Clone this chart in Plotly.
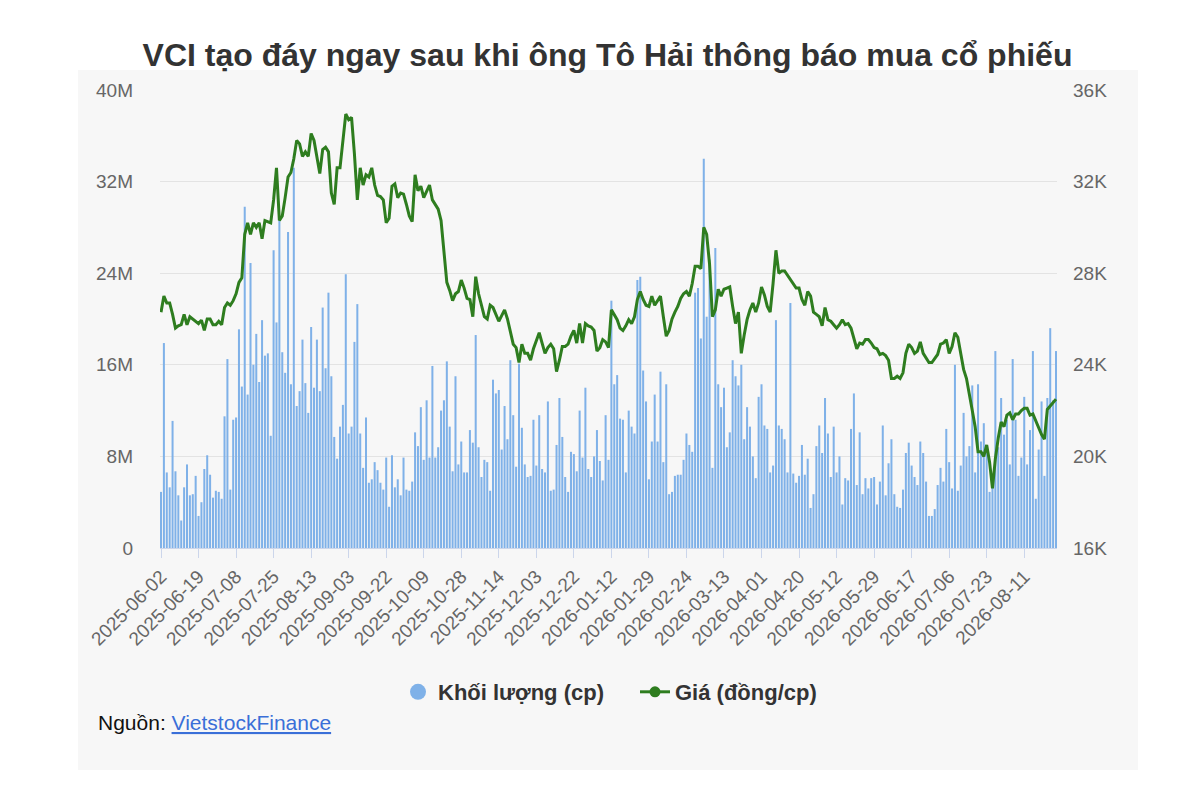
import pandas as pd
import plotly.graph_objects as go

# ---------------- data ----------------
TITLE = "VCI tạo đáy ngay sau khi ông Tô Hải thông báo mua cổ phiếu"
VOL_NAME = "Khối lượng (cp)"
PRICE_NAME = "Giá (đồng/cp)"

# trading calendar (weekdays minus market holidays)
holidays = ["2025-09-01", "2025-09-02", "2026-01-01", "2026-01-02",
            "2026-02-16", "2026-02-17", "2026-02-18", "2026-02-19", "2026-02-20",
            "2026-04-27", "2026-04-30", "2026-05-01"]
all_days = pd.bdate_range("2025-06-02", "2026-08-26")
dates = [d.strftime("%Y-%m-%d") for d in all_days if d.strftime("%Y-%m-%d") not in holidays]

# volume, millions of shares
volume_m = [
    4.9, 17.9, 6.6, 5.3, 11.1, 6.7, 4.6, 2.4, 5.3, 7.3,
    4.6, 4.7, 6.3, 2.8, 4.0, 6.9, 8.1, 6.4, 4.4, 5.0,
    4.9, 4.3, 11.5, 16.5, 5.1, 11.2, 11.4, 19.1, 14.1, 29.8,
    13.4, 24.9, 16.0, 18.7, 14.5, 19.9, 16.8, 17.0, 9.8, 26.0,
    19.7, 28.6, 17.1, 15.3, 27.6, 14.3, 33.2, 12.4, 13.7, 18.2,
    14.4, 11.8, 19.3, 14.0, 18.2, 13.7, 21.0, 15.7, 22.3, 15.0,
    9.7, 7.8, 10.6, 12.5, 23.9, 10.0, 10.6, 18.0, 21.3, 10.0,
    7.0, 11.4, 5.7, 6.0, 7.5, 6.8, 5.7, 5.1, 7.9, 3.6,
    8.1, 5.3, 6.0, 4.6, 7.9, 5.1, 5.0, 5.8, 10.1, 8.9,
    12.3, 7.7, 12.9, 7.9, 15.9, 7.9, 8.8, 12.0, 12.9, 16.3,
    10.6, 6.7, 15.0, 7.3, 9.3, 6.6, 6.6, 10.3, 9.2, 18.6,
    8.8, 6.2, 7.7, 7.5, 5.0, 14.7, 13.5, 13.8, 8.6, 12.4,
    9.5, 16.4, 11.6, 7.1, 16.1, 10.5, 7.3, 6.2, 6.3, 11.2,
    7.2, 11.6, 6.9, 6.6, 12.8, 5.0, 5.1, 9.0, 13.1, 9.7,
    6.2, 4.9, 8.4, 8.2, 6.7, 12.0, 7.9, 14.0, 6.9, 6.2,
    8.0, 10.3, 7.6, 5.9, 11.6, 7.7, 21.6, 14.3, 15.1, 11.3,
    11.2, 6.6, 12.0, 10.6, 10.0, 23.4, 23.7, 15.5, 12.8, 6.0,
    9.3, 13.4, 9.3, 15.4, 7.5, 14.3, 4.7, 4.9, 6.3, 6.4,
    6.4, 7.7, 10.0, 9.0, 8.4, 22.3, 22.7, 18.3, 34.0, 20.2,
    25.2, 7.0, 26.2, 14.3, 12.3, 14.0, 8.8, 10.1, 16.4, 15.0,
    14.2, 16.0, 9.5, 12.3, 10.6, 8.0, 6.1, 13.2, 14.3, 10.7,
    10.4, 6.6, 7.2, 19.9, 10.7, 10.4, 9.5, 6.6, 21.4, 6.5,
    5.7, 6.3, 9.0, 6.4, 7.8, 3.5, 4.7, 8.9, 10.7, 8.3,
    13.1, 10.0, 6.2, 10.6, 6.6, 8.0, 3.8, 6.1, 5.9, 10.4,
    13.5, 5.5, 10.1, 4.7, 6.1, 5.2, 6.1, 6.2, 3.8, 5.8,
    10.7, 4.6, 7.4, 9.5, 4.7, 3.6, 3.5, 5.1, 8.3, 9.2,
    7.2, 6.2, 5.5, 9.3, 8.3, 5.8, 2.8, 2.8, 3.4, 5.5,
    7.0, 5.8, 10.4, 7.5, 5.2, 16.0, 5.0, 7.2, 11.8, 8.0,
    8.9, 14.2, 6.6, 14.3, 9.3, 10.9, 8.8, 4.9, 5.4, 17.2,
    8.8, 13.1, 9.9, 11.2, 7.3, 16.5, 11.2, 6.3, 7.9, 13.2,
    7.3, 10.3, 17.2, 4.3, 8.6, 12.8, 6.3, 13.1, 19.2, 12.9,
    17.2,
]

# closing price, thousand VND
price_k = [
    26.3, 27.0, 26.7, 26.7, 26.2, 25.6, 25.7, 25.75, 26.2, 25.75,
    26.1, 26.0, 25.9, 25.8, 25.95, 25.5, 26.0, 26.0, 25.75, 25.75,
    25.9, 25.75, 26.5, 26.7, 26.6, 26.8, 27.1, 27.6, 27.8, 29.7,
    30.2, 29.7, 30.2, 30.0, 30.2, 29.5, 30.3, 30.25, 30.2, 31.2,
    32.6, 30.3, 30.5, 31.3, 32.2, 32.4, 33.0, 33.8, 33.65, 33.1,
    33.3, 33.1, 34.1, 33.8, 33.0, 32.35, 33.4, 33.5, 33.3, 31.5,
    31.0, 32.6, 32.6, 33.65, 34.95, 34.7, 34.8, 33.2, 31.2, 32.6,
    31.85, 32.3, 32.2, 32.6, 31.85, 31.4, 31.35, 31.2, 30.2, 30.4,
    31.8, 31.9, 31.3, 31.5, 31.45, 31.0, 30.5, 30.25, 32.3, 31.6,
    31.8, 31.3, 31.6, 31.85, 31.2, 31.0, 30.8, 30.3, 29.0, 27.6,
    27.25, 26.8, 27.1, 27.2, 27.7, 27.35, 26.9, 26.85, 26.1, 27.85,
    27.1, 26.6, 26.1, 26.0, 26.6, 26.5, 26.2, 25.9, 26.15, 26.4,
    26.0, 25.4, 24.9, 24.75, 24.1, 24.9, 24.5, 24.5, 24.2, 24.7,
    25.1, 25.4, 24.95, 24.5, 24.75, 24.9, 24.7, 23.7, 24.2, 24.8,
    24.8, 24.9, 25.25, 25.5, 24.95, 25.8, 24.95, 25.8, 25.7, 25.65,
    25.5, 24.6, 24.75, 25.1, 25.0, 24.75, 26.4, 26.2, 25.97, 25.6,
    25.5, 25.7, 25.97, 25.8, 26.1, 26.85, 27.2, 26.85, 26.6, 26.55,
    27.0, 26.6, 26.8, 27.0, 26.1, 25.25, 25.5, 26.0, 26.3, 26.55,
    26.9, 27.1, 27.2, 27.0, 27.55, 28.3, 28.3, 28.2, 30.0, 29.7,
    28.4, 26.1, 26.4, 27.3, 27.0, 27.3, 27.35, 27.4, 26.55, 25.8,
    26.3, 24.5, 25.3, 25.97, 26.4, 26.7, 26.3, 26.7, 27.4, 27.05,
    26.55, 26.3, 27.55, 29.0, 28.0, 28.1, 28.1, 27.9, 27.7, 27.55,
    27.35, 27.35, 26.85, 26.6, 27.2, 27.0, 26.3, 26.2, 26.1, 25.7,
    26.5, 25.97, 25.9, 25.75, 25.6, 25.75, 25.97, 25.75, 25.8, 25.6,
    25.2, 24.7, 24.95, 24.9, 25.1, 25.1, 24.95, 24.75, 24.7, 24.45,
    24.5, 24.4, 24.2, 23.4, 23.4, 23.5, 23.4, 23.65, 24.5, 24.9,
    24.75, 24.5, 24.6, 25.0, 24.5, 24.3, 24.1, 24.1, 24.3, 24.45,
    24.9, 24.95, 25.1, 24.5, 24.8, 25.4, 25.2, 24.5, 23.8, 23.4,
    22.6, 22.0, 21.3, 20.2, 20.2, 20.0, 20.5, 19.75, 18.6, 19.9,
    20.8, 21.5, 21.3, 21.8, 21.9, 21.6, 21.85, 21.85, 22.0, 22.1,
    22.1, 21.8, 21.85, 21.55, 21.25, 20.95, 20.75, 22.05, 22.2, 22.35,
    22.5,
]

vol_ticks = [0, 8, 16, 24, 32, 40]
vol_ticktext = ["0", "8M", "16M", "24M", "32M", "40M"]
price_ticks = [16, 20, 24, 28, 32, 36]
price_ticktext = ["16K", "20K", "24K", "28K", "32K", "36K"]
x_tickvals = dates[::13]

n = min(len(dates), len(volume_m), len(price_k))
dates = dates[:n]
volume_m = volume_m[:n]
price_k = price_k[:n]

# ---------------- style ----------------
FONT = "Liberation Sans, Arial, Helvetica, sans-serif"
BAR_COLOR = "#7fb1e8"
LINE_COLOR = "#2e7d1f"
PANEL = "#f7f7f7"
W, H = 1200, 793
L, R, T, B = 160, 143, 90, 245
pw, ph = W - L - R, H - T - B


def px_x(x):
    return (x - L) / pw


def px_y(y):
    return (H - B - y) / ph


fig = go.Figure()
fig.add_trace(go.Bar(x=dates, y=volume_m, marker=dict(color=BAR_COLOR, line=dict(width=0)),
                     showlegend=False, name=VOL_NAME, yaxis="y"))
fig.add_trace(go.Scatter(x=dates, y=price_k, mode="lines", line=dict(color=LINE_COLOR, width=3),
                         showlegend=False, name=PRICE_NAME, yaxis="y2"))
# legend entries
fig.add_trace(go.Scatter(x=[None], y=[None], mode="markers", name=VOL_NAME,
                         marker=dict(symbol="circle", size=18, color=BAR_COLOR)))
fig.add_trace(go.Scatter(x=[None], y=[None], mode="lines+markers", name=PRICE_NAME, yaxis="y2",
                         line=dict(color=LINE_COLOR, width=3),
                         marker=dict(symbol="circle", size=11, color=LINE_COLOR)))

fig.update_layout(
    width=W, height=H,
    margin=dict(l=L, r=R, t=T, b=B),
    paper_bgcolor="white",
    plot_bgcolor=PANEL,
    font=dict(family=FONT, color="#666666", size=19),
    bargap=0.3,
    title=dict(text="<b>" + TITLE + "</b>", xref="container", x=607.5 / W,
               yref="container", y=1 - 55 / H, xanchor="center", yanchor="middle",
               font=dict(size=32, color="#333333", family=FONT)),
    xaxis=dict(type="category", range=[-0.35, n - 1 + 0.35],
               tickmode="array", tickvals=x_tickvals, ticktext=x_tickvals,
               tickangle=-45, ticks="outside", ticklen=9, tickcolor="#ccd6eb", tickwidth=1,
               showline=True, linecolor="#ccd6eb", linewidth=1, showgrid=False,
               tickfont=dict(size=19, color="#666666"), fixedrange=True),
    yaxis=dict(range=[0, 40], tickvals=vol_ticks, ticktext=vol_ticktext,
               showgrid=True, gridcolor="#e3e3e3", gridwidth=1, zeroline=False,
               ticks="", ticklabelstandoff=26, tickfont=dict(size=19, color="#666666")),
    yaxis2=dict(range=[16, 36], tickvals=price_ticks, ticktext=price_ticktext,
                overlaying="y", side="right", showgrid=False, zeroline=False,
                ticks="", ticklabelstandoff=15, tickfont=dict(size=19, color="#666666")),
    legend=dict(orientation="h", x=px_x(398), xanchor="left", y=px_y(692), yanchor="middle",
                font=dict(size=22, color="#333333", family=FONT, weight="bold"),
                bgcolor="rgba(0,0,0,0)", entrywidth=192, entrywidthmode="pixels"),
    shapes=[dict(type="rect", xref="paper", yref="paper",
                 x0=px_x(78), x1=px_x(1138), y0=px_y(770), y1=px_y(70),
                 fillcolor=PANEL, line=dict(width=0), layer="below")],
    annotations=[dict(xref="paper", yref="paper", x=px_x(96), y=px_y(722),
                      xanchor="left", yanchor="middle", showarrow=False,
                      text="Nguồn: <a href='https://finance.vietstock.vn' "
                           "style='color:#3a6fd8;text-decoration:underline'>VietstockFinance</a>",
                      font=dict(size=21, color="#111111", family=FONT))],
)

fig.write_html("out.html", config={"displayModeBar": False},
               post_script="document.body.style.margin='0px';")
